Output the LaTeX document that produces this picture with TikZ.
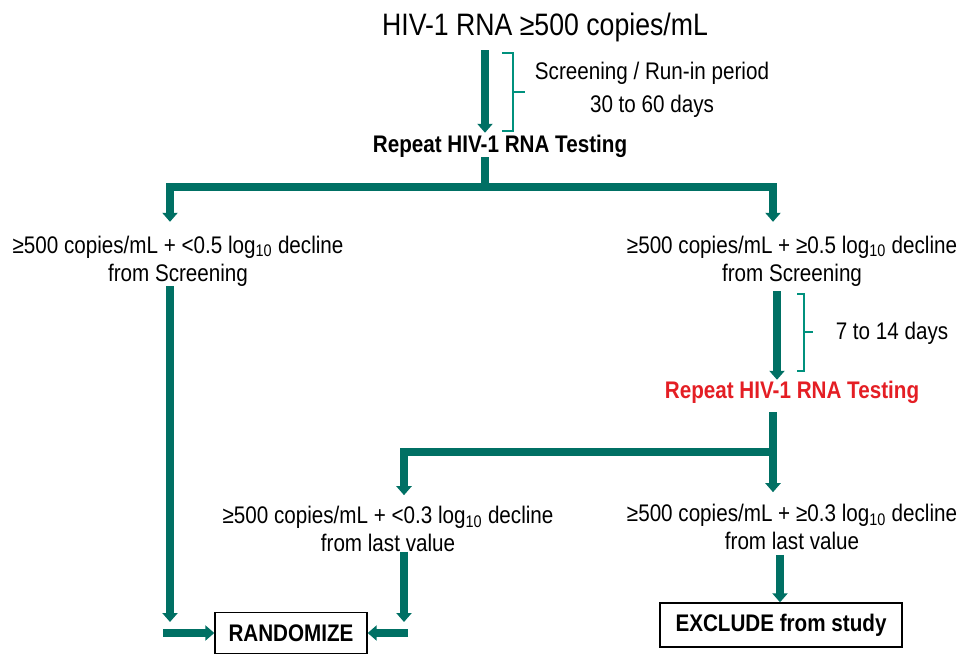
\documentclass[tikz,border=0pt]{standalone}
\usepackage{fontspec}
\setmainfont{Liberation Sans}[FakeStretch=0.86]
\usepackage{xcolor}
\usepackage{tikz}
\usetikzlibrary{arrows.meta}
\definecolor{flowgreen}{RGB}{0,112,100}
\definecolor{bracegreen}{RGB}{0,145,125}
\definecolor{testred}{RGB}{228,30,36}

\begin{document}
\begin{tikzpicture}[x=1pt, y=-1pt,
    txt/.style={align=center, inner sep=0pt, outer sep=0pt, font=\fontsize{24}{28}\selectfont},
    box/.style={draw, line width=1.4pt, inner sep=0pt, font=\fontsize{24}{28}\selectfont\bfseries},
    flow/.style={flowgreen, line width=7.5pt, -{Triangle[width=15pt, length=9pt]}},
    bar/.style={flowgreen, line width=7.5pt},
    brace/.style={bracegreen, line width=2.4pt}]
    \useasboundingbox (0, 0) rectangle (968, 656);

    \node[txt, font=\fontsize{31}{36}\selectfont] at (545, 27) (title) {HIV-1 RNA ≥500 copies/mL};
    \node[txt] at (652, 90) (scrnote) {Screening / Run-in period\\[5pt]30 to 60 days};
    \node[txt, font=\fontsize{24}{28}\selectfont\bfseries] at (500, 146) (rep1) {Repeat HIV-1 RNA Testing};
    \node[txt] at (178, 261) (lft) {≥500 copies/mL + <0.5 log\textsubscript{10} decline\\from Screening};
    \node[txt] at (792, 261) (rgt) {≥500 copies/mL + ≥0.5 log\textsubscript{10} decline\\from Screening};
    \node[txt] at (892, 333) (daynote) {7 to 14 days};
    \node[txt, text=testred, font=\fontsize{24}{28}\selectfont\bfseries] at (792, 392) (rep2) {Repeat HIV-1 RNA Testing};
    \node[txt] at (388, 529) (mid) {≥500 copies/mL + <0.3 log\textsubscript{10} decline\\from last value};
    \node[txt] at (792, 527) (rmid) {≥500 copies/mL + ≥0.3 log\textsubscript{10} decline\\from last value};
    \node[box, minimum width=152pt, minimum height=41pt] at (291, 633) (rnd) {RANDOMIZE};
    \node[box, minimum width=242pt, minimum height=44pt] at (781, 625) (exc) {EXCLUDE from study};

    \coordinate (j1) at (485, 187);
    \coordinate (j2) at (773, 452);
    \coordinate (colL) at (170, 0);
    \coordinate (colR) at (773, 0);
    \coordinate (colT) at (777, 0);
    \coordinate (colM) at (404, 0);
    \coordinate (colX) at (780, 0);
    \coordinate (lstop) at (170, 622);
    \coordinate (lstart) at (163, 633);
    \coordinate (mstop) at (404, 622);
    \coordinate (mstart) at (408, 633);

    % screening branch
    \draw[flow, line width=8.5pt, shorten <=9pt, shorten >=2pt] (title.south -| j1) -- (rep1.north -| j1);
    \draw[brace] (502, 53) -- (513, 53) -- (513, 131) -- (502, 131);
    \draw[brace] (513, 92) -- (525, 92);
    \draw[bar] (rep1.south -| j1) -- (j1);
    \draw[flow, shorten >=14pt] (j1) -| (lft.north -| colL);
    \draw[flow, shorten >=14pt] (j1) -| (rgt.north -| colR);
    \draw[flow] (lft.south -| colL) -- (lstop);
    \draw[flow] (lstart) -- (rnd.west);

    % second test
    \draw[flow, line width=8.5pt, shorten <=5pt, shorten >=1pt] (rgt.south -| colT) -- (rep2.north -| colT);
    \draw[brace] (797, 294) -- (804, 294) -- (804, 371) -- (797, 371);
    \draw[brace] (804, 332) -- (813, 332);
    \draw[bar, shorten <=9pt] (rep2.south -| colR) -- (j2);
    \draw[flow, shorten >=11pt] (j2) -| (mid.north -| colM);
    \draw[flow, shorten >=12pt] (j2) -- (rmid.north -| colR);
    \draw[flow] (mid.south -| colM) -- (mstop);
    \draw[flow] (mstart) -- (rnd.east);
    \draw[flow, shorten <=5pt] (rmid.south -| colX) -- (exc.north -| colX);
\end{tikzpicture}
\end{document}
